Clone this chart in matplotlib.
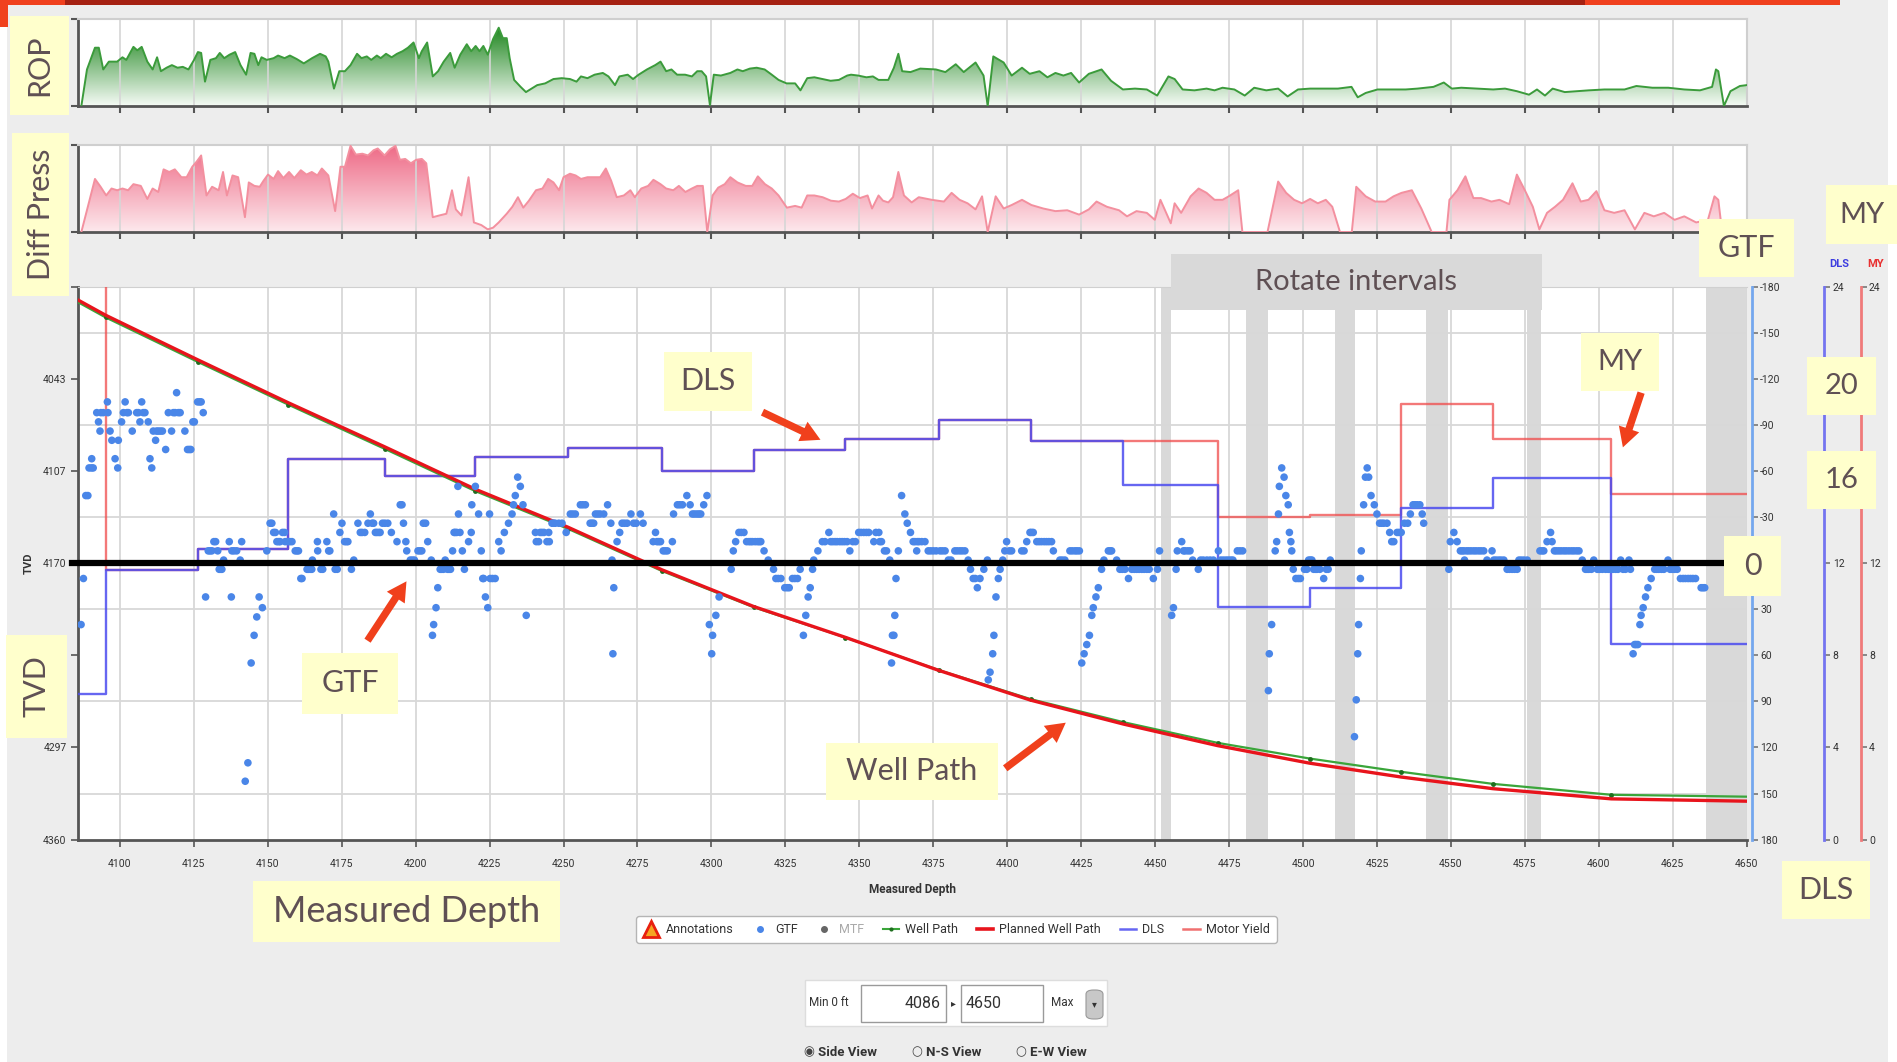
import numpy as np
import matplotlib.pyplot as plt
from matplotlib.colors import LinearSegmentedColormap
from matplotlib.lines import Line2D
from matplotlib.patches import Rectangle, FancyBboxPatch, FancyArrowPatch

plt.rcParams['font.family'] = ['Lato', 'DejaVu Sans']
NARROW = ['Roboto', 'DejaVu Sans']

# ---------------- data ----------------
md_lo, md_hi = 4086, 4650
tvd_lo, tvd_hi = 3980, 4360

# survey stations
survey_md = [4086.0, 4095.2, 4126.3, 4157.0, 4189.5, 4220.2, 4251.4, 4283.3, 4314.3, 4345.3,
             4377.0, 4408.0, 4439.3, 4471.1, 4502.3, 4533.2, 4564.2, 4604.2, 4650.0]
well_tvd = [3990.8, 4001.1, 4031.6, 4061.1, 4091.4, 4120.5, 4146.3, 4175.4, 4200.3, 4221.1,
            4243.6, 4263.5, 4279.3, 4293.5, 4304.3, 4313.4, 4321.7, 4329.2, 4330.5]
plan_tvd = [3989.3, 3999.6, 4030.2, 4059.8, 4090.0, 4119.2, 4145.2, 4174.6, 4199.8, 4221.0,
            4243.8, 4264.2, 4280.6, 4295.4, 4307.5, 4317.0, 4325.0, 4332.0, 4333.6]
# dogleg severity and motor yield per interval (deg/100ft)
dls = [6.3, 11.7, 12.6, 16.5, 15.8, 16.6, 17.0, 16.0, 16.9, 17.4, 18.2, 17.3, 15.4, 10.1,
       10.9, 14.4, 15.7, 8.5]
motor_yield = [26.0, 11.7, 12.6, 16.5, 15.8, 16.6, 17.0, 16.0, 16.9, 17.4, 18.2, 17.3, 17.3,
               14.0, 14.1, 18.9, 17.4, 15.0]

rotate_start = [4452.0, 4480.6, 4510.8, 4541.5, 4575.7, 4636.2]
rotate_end = [4455.4, 4488.1, 4517.5, 4549.0, 4580.4, 4650.0]

# rate of penetration (relative)
rop_md = [4087.0, 4088.9, 4091.6, 4092.9, 4094.4, 4096.3, 4099.1, 4100.9, 4102.2, 4104.6,
          4105.9, 4107.4, 4109.3, 4111.1, 4112.6, 4113.9, 4115.8, 4117.6, 4119.5, 4121.3,
          4123.2, 4125.1, 4126.4, 4127.5, 4128.8, 4130.6, 4132.5, 4133.8, 4135.3, 4137.1,
          4139.0, 4140.8, 4142.7, 4144.2, 4145.5, 4146.8, 4147.9, 4149.7, 4152.0, 4153.5,
          4155.7, 4157.5, 4159.8, 4162.2, 4165.0, 4167.7, 4169.6, 4170.5, 4172.4, 4174.2,
          4176.1, 4178.0, 4180.2, 4181.7, 4183.5, 4185.0, 4186.9, 4188.2, 4190.0, 4191.9,
          4193.7, 4195.6, 4197.4, 4199.3, 4201.1, 4202.1, 4203.9, 4205.8, 4207.6, 4209.5,
          4211.7, 4213.2, 4215.1, 4217.3, 4218.8, 4220.3, 4221.6, 4222.9, 4224.4, 4226.2,
          4228.1, 4229.5, 4230.8, 4231.8, 4233.3, 4235.5, 4237.3, 4239.2, 4241.1, 4243.8,
          4246.6, 4249.4, 4252.2, 4254.4, 4255.9, 4258.1, 4260.5, 4263.3, 4265.2, 4267.4,
          4268.9, 4271.7, 4273.5, 4275.4, 4278.2, 4281.0, 4282.8, 4284.7, 4286.5, 4288.4,
          4291.1, 4293.4, 4295.2, 4296.7, 4298.2, 4299.5, 4300.8, 4303.2, 4306.4, 4308.8,
          4310.6, 4313.0, 4315.3, 4318.0, 4320.4, 4322.7, 4325.4, 4328.3, 4330.1, 4332.4,
          4334.8, 4337.6, 4340.3, 4343.1, 4345.9, 4347.2, 4349.6, 4352.4, 4354.6, 4356.5,
          4358.0, 4359.8, 4361.7, 4363.2, 4364.5, 4367.3, 4370.6, 4375.9, 4379.1, 4382.6,
          4385.3, 4389.3, 4392.0, 4393.4, 4395.3, 4398.8, 4401.5, 4405.0, 4407.6, 4410.9,
          4413.6, 4416.3, 4419.0, 4421.6, 4424.3, 4427.6, 4431.9, 4435.1, 4439.1, 4443.2,
          4447.2, 4450.7, 4454.5, 4456.6, 4459.3, 4463.3, 4467.4, 4470.1, 4472.8, 4476.8,
          4480.3, 4483.5, 4487.6, 4491.6, 4494.8, 4498.3, 4502.4, 4506.4, 4511.8, 4516.4,
          4518.5, 4521.2, 4525.2, 4530.6, 4534.7, 4538.7, 4544.1, 4547.6, 4550.3, 4553.5,
          4558.9, 4564.3, 4568.3, 4572.3, 4576.4, 4579.1, 4581.8, 4584.4, 4588.5, 4592.5,
          4596.6, 4601.9, 4604.6, 4608.7, 4612.7, 4618.1, 4623.5, 4628.9, 4634.2, 4638.3,
          4639.6, 4640.4, 4642.3, 4644.5, 4647.7, 4650.0]
rop = [0.00, 0.42, 0.67, 0.67, 0.42, 0.51, 0.51, 0.56, 0.53, 0.68,
       0.64, 0.68, 0.51, 0.42, 0.56, 0.40, 0.44, 0.47, 0.44, 0.45,
       0.42, 0.53, 0.62, 0.61, 0.28, 0.53, 0.55, 0.61, 0.55, 0.59,
       0.62, 0.47, 0.36, 0.61, 0.60, 0.47, 0.56, 0.53, 0.55, 0.58,
       0.55, 0.58, 0.54, 0.49, 0.55, 0.60, 0.57, 0.51, 0.20, 0.40,
       0.40, 0.47, 0.60, 0.55, 0.57, 0.53, 0.58, 0.55, 0.60, 0.56,
       0.60, 0.63, 0.67, 0.73, 0.55, 0.63, 0.73, 0.34, 0.40, 0.51,
       0.61, 0.44, 0.59, 0.71, 0.63, 0.69, 0.63, 0.69, 0.59, 0.77,
       0.90, 0.78, 0.78, 0.55, 0.30, 0.22, 0.16, 0.20, 0.24, 0.26,
       0.31, 0.32, 0.31, 0.28, 0.34, 0.32, 0.36, 0.38, 0.34, 0.24,
       0.34, 0.36, 0.31, 0.36, 0.42, 0.47, 0.51, 0.40, 0.42, 0.36,
       0.36, 0.34, 0.40, 0.40, 0.34, 0.01, 0.36, 0.35, 0.38, 0.42,
       0.40, 0.43, 0.44, 0.42, 0.36, 0.30, 0.26, 0.26, 0.18, 0.32,
       0.33, 0.31, 0.29, 0.30, 0.35, 0.36, 0.35, 0.33, 0.34, 0.30,
       0.30, 0.30, 0.44, 0.60, 0.40, 0.39, 0.43, 0.42, 0.39, 0.48,
       0.39, 0.50, 0.35, 0.00, 0.57, 0.50, 0.35, 0.44, 0.37, 0.40,
       0.33, 0.38, 0.35, 0.38, 0.27, 0.37, 0.42, 0.29, 0.19, 0.20,
       0.19, 0.12, 0.34, 0.31, 0.19, 0.18, 0.20, 0.18, 0.21, 0.19,
       0.12, 0.21, 0.18, 0.20, 0.11, 0.19, 0.20, 0.20, 0.20, 0.22,
       0.10, 0.15, 0.19, 0.19, 0.19, 0.20, 0.22, 0.27, 0.20, 0.21,
       0.20, 0.19, 0.20, 0.17, 0.13, 0.19, 0.12, 0.20, 0.16, 0.17,
       0.18, 0.19, 0.19, 0.19, 0.23, 0.21, 0.21, 0.19, 0.18, 0.22,
       0.42, 0.40, 0.00, 0.17, 0.23, 0.24]

# differential pressure (relative)
dp_md = [4087.0, 4091.6, 4093.5, 4095.4, 4097.2, 4099.1, 4100.9, 4102.8, 4104.6, 4107.1,
         4109.3, 4111.1, 4113.0, 4114.8, 4116.7, 4118.6, 4120.8, 4122.6, 4124.5, 4126.0,
         4127.5, 4129.3, 4131.2, 4133.4, 4134.9, 4136.2, 4138.1, 4140.0, 4142.3, 4143.6,
         4145.5, 4147.3, 4148.6, 4150.1, 4152.0, 4153.5, 4155.3, 4157.2, 4159.0, 4161.2,
         4163.1, 4164.9, 4166.8, 4168.3, 4170.5, 4172.8, 4174.6, 4176.1, 4178.0, 4179.8,
         4182.0, 4183.9, 4185.8, 4187.2, 4189.5, 4191.3, 4193.2, 4194.7, 4196.5, 4198.4,
         4200.2, 4202.1, 4203.6, 4205.8, 4208.0, 4210.4, 4212.3, 4213.6, 4215.5, 4217.9,
         4219.7, 4222.2, 4224.4, 4226.2, 4228.1, 4230.8, 4232.7, 4234.6, 4236.4, 4238.3,
         4240.7, 4242.9, 4244.8, 4246.6, 4248.5, 4250.0, 4252.2, 4254.1, 4255.9, 4258.1,
         4260.5, 4262.4, 4264.3, 4266.1, 4268.0, 4270.4, 4272.6, 4274.1, 4276.3, 4278.6,
         4280.4, 4282.8, 4284.7, 4287.1, 4289.0, 4291.2, 4293.4, 4295.2, 4297.1, 4298.6,
         4300.4, 4302.3, 4304.5, 4306.4, 4308.8, 4311.6, 4313.8, 4315.7, 4318.1, 4320.4,
         4322.7, 4325.5, 4328.3, 4330.5, 4332.4, 4334.8, 4337.6, 4340.4, 4343.1, 4345.4,
         4347.8, 4350.2, 4352.8, 4354.3, 4356.5, 4358.0, 4359.8, 4361.4, 4363.2, 4365.1,
         4367.7, 4370.1, 4374.5, 4378.6, 4381.2, 4383.9, 4386.6, 4389.3, 4391.5, 4393.4,
         4396.1, 4398.8, 4401.5, 4405.0, 4408.2, 4412.2, 4416.3, 4420.3, 4424.3, 4427.6,
         4430.2, 4433.7, 4437.8, 4440.5, 4443.7, 4447.2, 4449.9, 4451.8, 4455.3, 4456.6,
         4458.8, 4462.0, 4464.7, 4467.4, 4470.1, 4472.8, 4474.9, 4478.1, 4479.5, 4488.0,
         4491.6, 4494.3, 4497.0, 4499.7, 4502.4, 4505.0, 4507.7, 4509.9, 4512.5, 4516.5,
         4518.0, 4521.2, 4524.4, 4527.9, 4530.6, 4533.3, 4536.8, 4540.0, 4543.5, 4548.5,
         4549.5, 4552.2, 4554.9, 4557.6, 4560.2, 4563.7, 4566.4, 4569.7, 4572.3, 4575.0,
         4577.7, 4579.9, 4582.5, 4585.2, 4587.9, 4591.1, 4593.9, 4596.5, 4599.2, 4601.9,
         4605.2, 4608.7, 4612.2, 4615.4, 4618.6, 4622.1, 4625.6, 4628.9, 4632.9, 4636.9,
         4639.1, 4640.4, 4641.7]
dp = [0.00, 0.61, 0.52, 0.42, 0.50, 0.48, 0.50, 0.48, 0.55, 0.53,
      0.38, 0.50, 0.46, 0.72, 0.69, 0.72, 0.63, 0.63, 0.75, 0.81,
      0.88, 0.42, 0.52, 0.48, 0.69, 0.42, 0.65, 0.63, 0.17, 0.57,
      0.53, 0.52, 0.59, 0.66, 0.61, 0.70, 0.62, 0.69, 0.62, 0.71,
      0.66, 0.69, 0.65, 0.73, 0.65, 0.24, 0.75, 0.75, 0.99, 0.89,
      0.90, 0.88, 0.94, 0.96, 0.88, 0.95, 0.99, 0.83, 0.84, 0.79,
      0.83, 0.84, 0.79, 0.17, 0.19, 0.21, 0.48, 0.26, 0.19, 0.63,
      0.11, 0.08, 0.03, 0.05, 0.11, 0.21, 0.29, 0.40, 0.28, 0.36,
      0.48, 0.50, 0.61, 0.57, 0.48, 0.63, 0.67, 0.65, 0.61, 0.63,
      0.63, 0.63, 0.73, 0.59, 0.40, 0.42, 0.48, 0.40, 0.50, 0.53,
      0.60, 0.55, 0.50, 0.48, 0.53, 0.46, 0.50, 0.53, 0.53, 0.00,
      0.42, 0.51, 0.55, 0.63, 0.57, 0.53, 0.53, 0.64, 0.55, 0.50,
      0.42, 0.28, 0.30, 0.28, 0.42, 0.42, 0.40, 0.36, 0.35, 0.38,
      0.44, 0.39, 0.42, 0.27, 0.42, 0.36, 0.34, 0.40, 0.69, 0.42,
      0.34, 0.40, 0.37, 0.35, 0.45, 0.37, 0.33, 0.26, 0.41, 0.00,
      0.41, 0.27, 0.31, 0.37, 0.31, 0.27, 0.24, 0.25, 0.20, 0.26,
      0.35, 0.29, 0.25, 0.18, 0.24, 0.22, 0.14, 0.37, 0.10, 0.33,
      0.22, 0.41, 0.50, 0.45, 0.37, 0.37, 0.41, 0.48, 0.00, 0.00,
      0.58, 0.45, 0.37, 0.33, 0.38, 0.33, 0.37, 0.29, 0.00, 0.00,
      0.52, 0.41, 0.35, 0.35, 0.41, 0.45, 0.48, 0.27, 0.00, 0.00,
      0.37, 0.48, 0.64, 0.39, 0.39, 0.35, 0.37, 0.32, 0.66, 0.48,
      0.29, 0.03, 0.22, 0.29, 0.37, 0.56, 0.35, 0.37, 0.47, 0.25,
      0.22, 0.25, 0.03, 0.22, 0.18, 0.22, 0.14, 0.18, 0.11, 0.14,
      0.41, 0.37, 0.00]

# gravity toolface readings (deg)
gtf_md = [
    4086.9, 4087.7, 4088.5, 4089.2, 4089.6, 4090.4, 4090.5, 4091.0, 4092.2, 4092.8,
    4093.3, 4093.6, 4094.4, 4095.8, 4096.0, 4096.7, 4097.3, 4098.4, 4099.3, 4099.5,
    4100.6, 4101.2, 4101.8, 4102.4, 4102.9, 4104.2, 4105.7, 4106.3, 4106.8, 4107.4,
    4107.9, 4108.5, 4109.6, 4110.2, 4110.8, 4111.3, 4112.1, 4112.4, 4113.0, 4113.7,
    4114.4, 4115.5, 4116.4, 4117.5, 4118.1, 4118.7, 4119.2, 4119.8, 4120.4, 4122.0,
    4122.9, 4123.5, 4124.0, 4124.7, 4125.2, 4126.3, 4127.0, 4127.5, 4128.2,
    4129.0, 4129.9, 4130.5, 4131.1, 4131.8, 4132.4, 4133.1, 4133.6, 4134.1, 4134.5,
    4135.1, 4137.0, 4137.7, 4137.9, 4138.6, 4139.5, 4140.7, 4141.2, 4142.4, 4143.3,
    4144.4, 4145.4, 4146.3, 4147.1, 4148.2, 4149.7, 4150.8, 4151.4, 4152.0, 4152.6,
    4153.1, 4153.7, 4154.2, 4155.0, 4155.7, 4155.9, 4156.8, 4157.5, 4158.2, 4159.3,
    4159.9, 4160.4, 4161.2, 4161.6, 4163.3, 4163.8, 4164.4, 4164.9, 4165.1, 4166.8,
    4166.9, 4168.0, 4168.6, 4170.0, 4170.6, 4171.0, 4172.3, 4172.8, 4173.5, 4174.4,
    4175.1, 4176.0, 4176.6, 4177.1, 4178.3, 4179.1, 4180.5, 4181.3, 4181.9, 4182.8,
    4183.9, 4184.7, 4185.3, 4185.8, 4186.4, 4186.9, 4187.5, 4188.0, 4188.8, 4189.6,
    4190.6, 4191.8, 4193.7, 4194.8, 4195.4, 4195.9, 4196.7, 4197.0, 4198.2, 4198.9,
    4199.6, 4200.8, 4201.5, 4202.1, 4202.6, 4203.4, 4204.1, 4205.3, 4205.7, 4206.1,
    4206.9, 4207.5, 4208.3, 4208.8, 4209.4, 4210.0, 4210.8, 4211.3, 4211.8, 4212.5,
    4213.0, 4213.4, 4213.9, 4214.3, 4214.5, 4215.0, 4215.8, 4216.5, 4217.9, 4218.8,
    4219.0, 4220.2, 4221.3,
    4222.2, 4222.7, 4223.0, 4223.6, 4224.4, 4225.0, 4225.2, 4226.0, 4226.9, 4228.1,
    4228.9, 4230.0, 4231.4, 4232.6, 4233.1, 4233.7, 4234.5, 4235.4, 4236.3, 4237.4,
    4240.5, 4240.8, 4241.6, 4242.1, 4242.7, 4243.4, 4244.4, 4245.0, 4245.2, 4246.1,
    4246.7, 4247.2, 4248.4, 4249.5, 4250.9, 4252.3, 4253.1, 4254.0, 4255.7, 4256.5,
    4257.4, 4259.0, 4259.6, 4260.2, 4260.8, 4261.6, 4262.4, 4263.6, 4264.9, 4266.0,
    4266.4, 4266.7, 4267.0, 4268.1, 4269.0, 4269.8, 4270.6, 4271.5, 4272.8, 4273.7,
    4274.6, 4276.0, 4276.9, 4280.3, 4281.1, 4281.6, 4282.2, 4282.8, 4283.7, 4284.4,
    4285.1, 4286.8, 4287.2, 4288.5, 4289.3, 4290.2, 4291.7, 4292.8, 4293.6, 4294.3,
    4295.1, 4295.8, 4296.4, 4297.4, 4298.5, 4299.3, 4300.1, 4300.4, 4301.5, 4302.6,
    4306.7, 4307.4, 4308.2, 4309.3, 4310.1, 4311.0, 4311.9, 4312.7, 4313.3, 4313.9,
    4314.8, 4315.6, 4316.2, 4316.7, 4317.8, 4319.2, 4321.0, 4321.8, 4322.6, 4323.5,
    4324.8, 4325.6, 4326.3, 4327.4, 4328.2, 4329.1, 4330.0, 4331.1, 4331.9, 4332.7,
    4333.4, 4334.2, 4334.6, 4336.0, 4337.5, 4338.4, 4339.7, 4340.3, 4341.0, 4341.8,
    4342.5, 4343.4, 4344.2, 4345.0, 4345.9, 4346.8, 4347.8, 4348.7, 4349.8, 4350.6,
    4351.5, 4352.4, 4353.2, 4354.9, 4355.6, 4356.6, 4356.9,
    4357.5, 4358.5, 4359.2, 4360.3, 4360.9, 4361.2, 4361.7, 4362.0, 4362.4, 4363.2,
    4364.3, 4365.4, 4366.2, 4367.3, 4368.2, 4368.8, 4369.4, 4369.6, 4370.2, 4371.1,
    4372.2, 4373.3, 4374.1, 4375.0, 4376.0, 4377.3, 4378.1, 4379.0, 4380.1, 4381.0,
    4382.3, 4383.1, 4384.0, 4384.8, 4385.7, 4386.8, 4387.6, 4388.5, 4389.2, 4389.9,
    4390.8, 4392.1, 4393.3, 4393.6, 4394.2, 4395.1, 4395.5, 4396.2, 4397.0, 4397.6,
    4398.5, 4399.2, 4399.8, 4400.7, 4401.5, 4404.9, 4405.7, 4406.6, 4407.7, 4408.2,
    4408.8, 4410.0, 4410.8, 4411.6, 4412.5, 4413.3, 4414.1, 4415.0, 4415.6, 4417.8,
    4418.6, 4419.5, 4421.2, 4422.0, 4422.9, 4423.6, 4424.4, 4425.2, 4426.0, 4426.9,
    4427.8, 4428.6, 4429.1, 4430.0, 4430.8, 4431.9, 4432.7, 4434.2, 4434.8, 4435.3,
    4437.0, 4438.1, 4438.9, 4439.8, 4441.0, 4442.1, 4443.0, 4443.8, 4444.6, 4445.5,
    4446.3, 4447.2, 4448.0, 4449.4, 4450.8, 4451.5, 4455.6, 4456.2, 4457.1, 4457.5,
    4459.0, 4459.6, 4460.1, 4461.0, 4461.8, 4462.7, 4464.6, 4465.4, 4466.3, 4467.5,
    4468.6, 4469.7, 4471.4, 4472.2, 4473.1, 4474.0, 4474.8, 4475.6, 4476.3, 4477.8,
    4478.7, 4479.6,
    4488.3, 4488.6, 4489.4, 4490.6, 4491.1, 4491.7, 4492.0, 4492.8, 4493.6, 4494.2,
    4495.0, 4495.4, 4495.9, 4496.2, 4496.7, 4497.6, 4498.4, 4499.1, 4500.5, 4501.3,
    4501.9, 4502.5, 4503.0, 4503.6, 4504.2, 4504.7, 4505.7, 4507.0, 4507.9, 4508.5,
    4509.2, 4517.4, 4518.0, 4518.5, 4518.8, 4519.4, 4519.7, 4520.5, 4521.1, 4521.7,
    4522.2, 4523.0, 4524.1, 4525.0, 4525.9, 4526.6, 4527.3, 4528.4, 4529.3, 4530.0,
    4530.7, 4531.8, 4532.5, 4533.2, 4534.3, 4535.4, 4536.3, 4537.2, 4537.9, 4538.6,
    4539.5, 4540.3, 4540.8,
    4549.3, 4549.8, 4551.0, 4552.1, 4553.2, 4553.8, 4554.4, 4554.6, 4555.3, 4556.0,
    4556.8, 4557.7, 4558.5, 4559.4, 4560.2, 4561.1, 4562.2, 4563.9, 4564.5, 4565.3,
    4566.2, 4567.0, 4567.9, 4569.0, 4569.8, 4570.7, 4571.5, 4572.4, 4573.0, 4573.8,
    4574.7, 4575.8, 4580.1, 4580.8, 4581.4, 4582.5, 4583.7, 4584.2, 4585.0, 4585.7,
    4586.5, 4587.3, 4588.2, 4589.0, 4589.9, 4590.8, 4591.6, 4592.5, 4593.3, 4594.4,
    4595.5, 4596.0, 4596.6, 4597.5, 4598.3, 4599.5, 4600.3, 4601.2, 4602.3, 4603.2,
    4604.0, 4604.8, 4605.7, 4606.5, 4607.4, 4608.2, 4609.0, 4610.2, 4610.7, 4611.6,
    4612.1, 4612.6, 4613.2, 4613.9, 4614.3, 4615.0, 4615.8, 4616.6, 4617.7, 4618.9,
    4619.6, 4620.3, 4621.2, 4622.0, 4623.4, 4624.1, 4624.8, 4625.6, 4626.5, 4627.6,
    4628.5, 4629.3, 4630.2, 4631.0, 4631.8, 4632.7, 4634.6, 4635.2, 4635.8]
gtf = [
    40, 10, -44, -44, -62, -62, -68, -62, -98, -92,
    -86, -98, -98, -105, -98, -86, -80, -68, -62, -80,
    -92, -98, -105, -98, -98, -86, -98, -98, -92, -105,
    -98, -98, -92, -68, -62, -86, -80, -86, -86, -86,
    -86, -74, -98, -86, -98, -98, -111, -98, -98, -86,
    -74, -74, -74, -92, -92, -105, -105, -105, -98,
    22, -8, -8, -8, -14, -14, -8, 4, 4, 4,
    -2, -14, 22, -8, -8, -8, -2, -14, 142, 130,
    65, 47, 35, 22, 29, -8, -26, -26, -20, -20,
    -14, -14, -14, -20, -20, -14, -14, -14, -14, -8,
    -8, -8, 10, 10, 4, 4, 4, 4, -2, -14,
    -8, 4, 4, -14, -8, -8, -32, 4, 4, -20,
    -26, -14, -14, -14, 4, -2, -26, -20, -20, -20,
    -26, -32, -26, -26, -20, -20, -20, -20, -26, -26,
    -26, -20, -14, -38, -38, -26, -14, -8, -2, -2,
    -2, -8, -8, -8, -26, -26, -14, -2, 47, 40,
    29, 16, 4, 4, 4, -2, 4, 4, 4, -8,
    -20, -20, -20, -50, -32, -20, -8, 4, -14, -20,
    -38, -50, -32,
    -8, 10, 10, 22, 29, -32, 10, 10, 10, -14,
    -8, -20, -26, -32, -38, -44, -56, -50, -38, 34,
    -20, -14, -14, -20, -20, -20, -14, -20, -14, -26,
    -26, -26, -26, -26, -20, -32, -32, -32, -38, -38,
    -38, -26, -26, -26, -32, -32, -32, -32, -38, -26,
    -2, 59, 16, -14, -20, -26, -26, -26, -32, -26,
    -26, -32, -26, -14, -20, -14, -14, -14, -8, -8,
    -8, -14, -32, -38, -38, -38, -44, -38, -32, -32,
    -32, -32, -32, -38, -44, 40, 59, 47, 34, 22,
    4, -8, -14, -20, -20, -20, -14, -14, -14, -14,
    -14, -14, -14, -14, -8, -2, 4, 10, 10, 10,
    16, 16, 16, 10, 10, 10, 4, 47, 34, 22,
    16, 4, -2, -8, -14, -14, -20, -14, -14, -14,
    -14, -14, -14, -14, -14, -8, -14, -14, -20, -20,
    -20, -20, -20, -14, -20, -20, -14,
    -14, -8, -8, -2, 65, 47, 47, 34, 10, -8,
    -44, -32, -26, -20, -14, -14, -8, -14, -14, -14,
    -14, -8, -8, -8, -8, -8, -8, -8, -2, -2,
    -8, -8, -8, -8, -8, -2, 4, 10, 10, 16,
    10, 4, -2, 76, 71, 59, 47, 22, 10, 4,
    -2, -8, -14, -8, -8, -8, -8, -14, -20, -20,
    -20, -14, -14, -14, -14, -14, -14, -14, -8, -2,
    -2, -2, -8, -8, -8, -8, -8, 65, 59, 53,
    47, 34, 29, 22, 16, 4, -2, -8, -8, -8,
    -2, 4, 4, 4, 10, 4, 4, 4, 4, 4,
    4, 4, 4, 10, 4, -8, 34, 29, 4, -8,
    -14, -8, -8, -8, -8, -2, 4, -2, -2, -2,
    -2, -2, -8, -2, -2, -2, -2, -2, -2, -8,
    -8, -8,
    83, 59, 40, -8, -14, -32, -50, -62, -56, -44,
    -38, -20, -14, -8, 4, 10, 10, 10, 4, 4,
    -2, -2, -2, 4, 4, 4, 4, 10, 4, 4,
    -2, 113, 89, 59, 40, 10, -8, -38, -56, -62,
    -56, -44, -38, -32, -26, -26, -26, -26, -20, -14,
    -14, -20, -20, -20, -26, -26, -32, -38, -38, -38,
    -38, -32, -26,
    4, -14, -20, -14, -8, -8, -8, -2, -8, -8,
    -8, -8, -8, -8, -8, -8, -2, -8, -2, -2,
    -2, -2, -2, 4, 4, 4, 4, 4, -2, -2,
    -2, -2, -8, -8, -8, -14, -20, -14, -8, -8,
    -8, -8, -8, -8, -8, -8, -8, -8, -8, -2,
    4, 4, 4, 4, -2, 4, 4, 4, 4, 4,
    4, 4, 4, 4, -2, 4, 4, -2, 4, 59,
    53, 53, 53, 40, 34, 29, 22, 16, 10, 4,
    4, 4, 4, 4, -2, 4, 4, 4, 4, 10,
    10, 10, 10, 10, 10, 10, 16, 16, 16]

# ---------------- figure ----------------
W, H = 1897, 1062
fig = plt.figure(figsize=(W / 100, H / 100), dpi=100)
fig.patch.set_facecolor('#ededed')


def frame(x0, y0, x1, y1):
    return [x0 / W, 1 - y1 / H, (x1 - x0) / W, (y1 - y0) / H]


def fig_rect(x0, y0, x1, y1, z=1, **kw):
    r = Rectangle((x0 / W, 1 - y1 / H), (x1 - x0) / W, (y1 - y0) / H,
                  transform=fig.transFigure, zorder=z, **kw)
    fig.add_artist(r)
    return r


def fig_text(x, y, s, **kw):
    return fig.text(x / W, 1 - y / H, s, **kw)


# page chrome
fig_rect(0, 27, 7, H, fc='white', lw=0)
fig_rect(1888, 0, W, H, fc='white', lw=0)
fig_rect(0, 0, 65, 5, fc='#f0401e', lw=0)
fig_rect(0, 0, 8, 27, fc='#f0401e', lw=0)
fig_rect(65, 0, 1585, 5, fc='#a52112', lw=0)
fig_rect(1585, 0, 1840, 5, fc='#f0401e', lw=0)

L, R = 78.4, 1746.7


def strip_panel(y0, y1):
    a = fig.add_axes(frame(L, y0, R, y1))
    a.set_facecolor('white')
    a.set_xlim(md_lo, md_hi)
    a.set_ylim(0, 1)
    a.set_xticks(np.arange(4100, md_hi, 25))
    a.set_yticks([0, 1])
    a.tick_params(labelbottom=False, labelleft=False, length=5, width=1.5, color='#555555')
    a.grid(axis='x', color='#d6d6d6', lw=1.2, zorder=2.5)
    for s in ['top', 'right']:
        a.spines[s].set_color('#cfcfcf')
        a.spines[s].set_linewidth(1.5)
    for s in ['left', 'bottom']:
        a.spines[s].set_color('#555555')
        a.spines[s].set_linewidth(2)
    return a


def shaded_area(a, x, y, top, bottom, edge):
    area = a.fill_between(x, y, 0, facecolor='none', edgecolor='none')
    cmap = LinearSegmentedColormap.from_list('fade', [bottom, top])
    img = a.imshow(np.linspace(0, 1, 256).reshape(-1, 1), cmap=cmap, origin='lower',
                   aspect='auto', extent=[x[0], x[-1], 0, 1], zorder=1)
    img.set_clip_path(area.get_paths()[0], a.transData)
    a.plot(x, y, color=edge, lw=1.4, zorder=3)
    a.set_xlim(md_lo, md_hi)
    a.set_ylim(0, 1)


ax_rop = strip_panel(19, 106)
shaded_area(ax_rop, rop_md, rop, '#097a09', '#f6fbf6', '#3b9b3b')
ax_dp = strip_panel(145, 232)
shaded_area(ax_dp, dp_md, dp, '#ee6a86', '#fde9ed', '#f3909f')

# main side-view chart
ax = fig.add_axes(frame(L, 286.7, R, 839.6))
ax.set_facecolor('white')
ax.set_xlim(md_lo, md_hi)
ax.set_ylim(tvd_hi, tvd_lo)
ax.set_xticks(np.arange(4100, md_hi + 1, 25))
tvd_major = np.linspace(tvd_lo, tvd_hi, 7)
ax.set_yticks(tvd_major)
# first and fifth labels sit under the call-out boxes
ax.set_yticklabels(['' if i in (0, 4) else f'{v:.0f}' for i, v in enumerate(tvd_major)])
ax.set_yticks(np.linspace(tvd_lo, tvd_hi, 13), minor=True)
ax.grid(which='minor', axis='y', color='#d8d8d8', lw=1.3)
ax.grid(which='major', axis='x', color='#d8d8d8', lw=1.3)
ax.set_axisbelow(True)
ax.tick_params(which='minor', length=0)
ax.tick_params(which='major', length=5, width=1.2, color='#555555', labelsize=7.5,
               labelcolor='#333333', labelfontfamily=NARROW)
ax.tick_params(axis='x', pad=9)
for s in ['left', 'bottom']:
    ax.spines[s].set_color('#555555')
    ax.spines[s].set_linewidth(2)
ax.spines['top'].set_color('#d0d0d0')
ax.spines['right'].set_visible(False)
ax.set_xlabel('Measured Depth', fontsize=8.5, fontweight='bold', color='#333333', family=NARROW)
ax.xaxis.set_label_coords(0.5, -0.078)
ax.set_ylabel('TVD', fontsize=8, fontweight='bold', color='#333333', family=NARROW)
ax.yaxis.set_label_coords(-0.027, 0.5)

for a, b in zip(rotate_start, rotate_end):
    ax.axvspan(a, b, color='#d9d9d9', lw=0, zorder=0.2)


def right_axis(pos, color, lim, ticks, hidden=()):
    t = ax.twinx()
    t.set_ylim(*lim)
    t.set_yticks(ticks)
    t.set_yticklabels(['' if v in hidden else f'{v:g}' for v in ticks])
    for s in ['top', 'left', 'bottom']:
        t.spines[s].set_visible(False)
    t.spines['right'].set_position(('axes', pos))
    t.spines['right'].set_color(color)
    t.spines['right'].set_linewidth(2)
    t.tick_params(axis='y', length=4, width=1.2, color='#777777', labelsize=7.5,
                  labelcolor='#333333', labelfontfamily=NARROW, pad=2)
    return t


# 16 and 20 on the DLS / MY scales sit under call-out boxes, as does GTF 0
ax_dls = right_axis(1.0466, '#7474f0', (0, 24), np.arange(0, 25, 4), hidden=(16, 20))
my_steps = list(motor_yield) + [motor_yield[-1]]
dls_steps = list(dls) + [dls[-1]]
ax_dls.step(survey_md, my_steps, where='post', color='#f04b4b', alpha=0.75, lw=1.7)
ax_dls.step(survey_md, dls_steps, where='post', color='#4b4bef', alpha=0.85, lw=1.7)

ax_my = right_axis(1.0683, '#f07a7a', (0, 24), np.arange(0, 25, 4), hidden=(16, 20))

ax_path = ax.twinx()
ax_path.set_ylim(tvd_hi, tvd_lo)
ax_path.axis('off')
ax_path.plot(survey_md, well_tvd, color='#3aa53a', lw=1.6, marker='o', ms=3.5,
             mfc='#1f6e1f', mec='none', markevery=list(range(1, len(survey_md) - 1)))
ax_path.plot(survey_md, plan_tvd, color='#e8141c', lw=2.4)

ax_gtf = right_axis(1.003, '#74a7ee', (180, -180), np.arange(-180, 181, 30), hidden=(0,))
ax_gtf.scatter(gtf_md, gtf, s=30, color='#4a86e8', edgecolors='none', zorder=3)
ax_gtf.axhline(0, xmin=-0.004, xmax=(1724 - L) / (R - L), color='black', lw=4.5,
               clip_on=False, zorder=6)

fig_text(1839, 264, 'DLS', fontsize=8, fontweight='bold', color='#3d3de0', ha='center',
         va='center', family=NARROW)
fig_text(1876, 264, 'MY', fontsize=8, fontweight='bold', color='#e83030', ha='center',
         va='center', family=NARROW)

# legend
handles = [
    Line2D([], [], ls='none', marker='^', ms=11, mfc='#f5a623', mec='#e8200f', mew=2),
    Line2D([], [], ls='none', marker='o', ms=4, color='#4a86e8'),
    Line2D([], [], ls='none', marker='o', ms=4, color='#666666'),
    Line2D([], [], color='#3aa53a', lw=1.5, marker='o', ms=3, mfc='#1f6e1f', mec='none'),
    Line2D([], [], color='#e8141c', lw=2.6),
    Line2D([], [], color='#6666f2', lw=1.8),
    Line2D([], [], color='#f07070', lw=1.8),
]
labels = ['Annotations', 'GTF', 'MTF', 'Well Path', 'Planned Well Path', 'DLS', 'Motor Yield']
leg = fig.legend(handles, labels, loc='center',
                 bbox_to_anchor=((637 + 1276) / 2 / W, 1 - (913 + 946) / 2 / H),
                 ncol=7, frameon=True, fancybox=True, edgecolor='#b5b5b5', facecolor='white',
                 framealpha=1, handlelength=1.3, handletextpad=0.5, columnspacing=1.5,
                 borderpad=0.55, prop={'family': NARROW, 'size': 9})
for t in leg.get_texts():
    t.set_color('#333333')
leg.get_texts()[2].set_color('#aaaaaa')

# depth range control
fig_rect(805, 980, 1107, 1026, fc='white', ec='#dddddd', lw=1)
fig_text(809, 1003, 'Min 0 ft', fontsize=8.5, va='center', color='#333333', family=NARROW)
fig_rect(861, 985, 946, 1022, fc='white', ec='#9a9a9a', lw=1, z=2)
fig_text(941, 1003, f'{md_lo}', fontsize=11.5, ha='right', va='center', color='#333333',
         family=NARROW)
fig_text(953, 1003, '▸', fontsize=7, ha='center', va='center', color='#333333',
         family='DejaVu Sans')
fig_rect(961, 985, 1043, 1022, fc='white', ec='#9a9a9a', lw=1, z=2)
fig_text(966, 1003, f'{md_hi}', fontsize=11.5, va='center', color='#333333', family=NARROW)
fig_text(1051, 1003, 'Max', fontsize=8.5, va='center', color='#333333', family=NARROW)
fig.add_artist(FancyBboxPatch((1086 / W, 1 - 1019 / H), 17 / W, 29 / H,
                              boxstyle='round,pad=0,rounding_size=0.004',
                              transform=fig.transFigure, fc='#c8c8c8', ec='#999999', lw=0.8))
fig_text(1094.5, 1004, '▾', fontsize=7, ha='center', va='center', color='#333333',
         family='DejaVu Sans')
for x, mark, label in [(809, '◉', 'Side View'), (917, '○', 'N-S View'), (1021, '○', 'E-W View')]:
    fig_text(x, 1052, mark, fontsize=9, ha='center', va='center', color='#444444',
             family='DejaVu Sans')
    fig_text(x + 9, 1052, label, fontsize=9.5, va='center', color='#333333',
             fontweight='bold', family=NARROW)

# call-out boxes
NOTE_FC = '#ffffcc'
NOTE_TC = '#5f5054'
notes = [
    ('ROP', 10, 16, 69, 115, 90, 22),
    ('Diff Press', 12, 133, 69, 296, 90, 22),
    ('TVD', 6, 635, 67, 738, 90, 22),
    ('GTF', 302, 653, 398, 714, 0, 22),
    ('DLS', 664, 352, 752, 411, 0, 22),
    ('Well Path', 826, 743, 998, 800, 0, 22),
    ('Measured Depth', 253, 881, 560, 942, 0, 26),
    ('GTF', 1699, 219, 1794, 277, 0, 22),
    ('MY', 1826, 185, 1897, 244, 0, 21),
    ('MY', 1581, 333, 1659, 391, 0, 21),
    ('20', 1807, 357, 1876, 415, 0, 21),
    ('16', 1807, 451, 1876, 509, 0, 21),
    ('0', 1724, 536, 1781, 596, 0, 22),
    ('DLS', 1782, 861, 1870, 919, 0, 22),
]
for text, x0, y0, x1, y1, rot, size in notes:
    fig_rect(x0, y0, x1, y1, z=10, fc=NOTE_FC, lw=0)
    fig_text((x0 + x1) / 2, (y0 + y1) / 2, text, rotation=rot, fontsize=size, ha='center',
             va='center', color=NOTE_TC, zorder=11)

fig_rect(1171, 254, 1542, 310, z=10, fc='#d9d9d9', lw=0)
fig_text(1356, 282, 'Rotate intervals', fontsize=21, ha='center', va='center',
         color=NOTE_TC, zorder=11)

for (xa, ya), (xb, yb) in [((760, 411), (823, 441)), ((366, 643), (408, 579)),
                           ((1003, 770), (1068, 721)), ((1642, 390), (1622, 450))]:
    fig.add_artist(FancyArrowPatch((xa / W, 1 - ya / H), (xb / W, 1 - yb / H),
                                   transform=fig.transFigure, zorder=12,
                                   arrowstyle='simple,head_length=1.0,head_width=1.1,tail_width=0.38',
                                   mutation_scale=14, color='#f0401c', lw=0))

fig.savefig('out.png', dpi=100, facecolor=fig.get_facecolor())
